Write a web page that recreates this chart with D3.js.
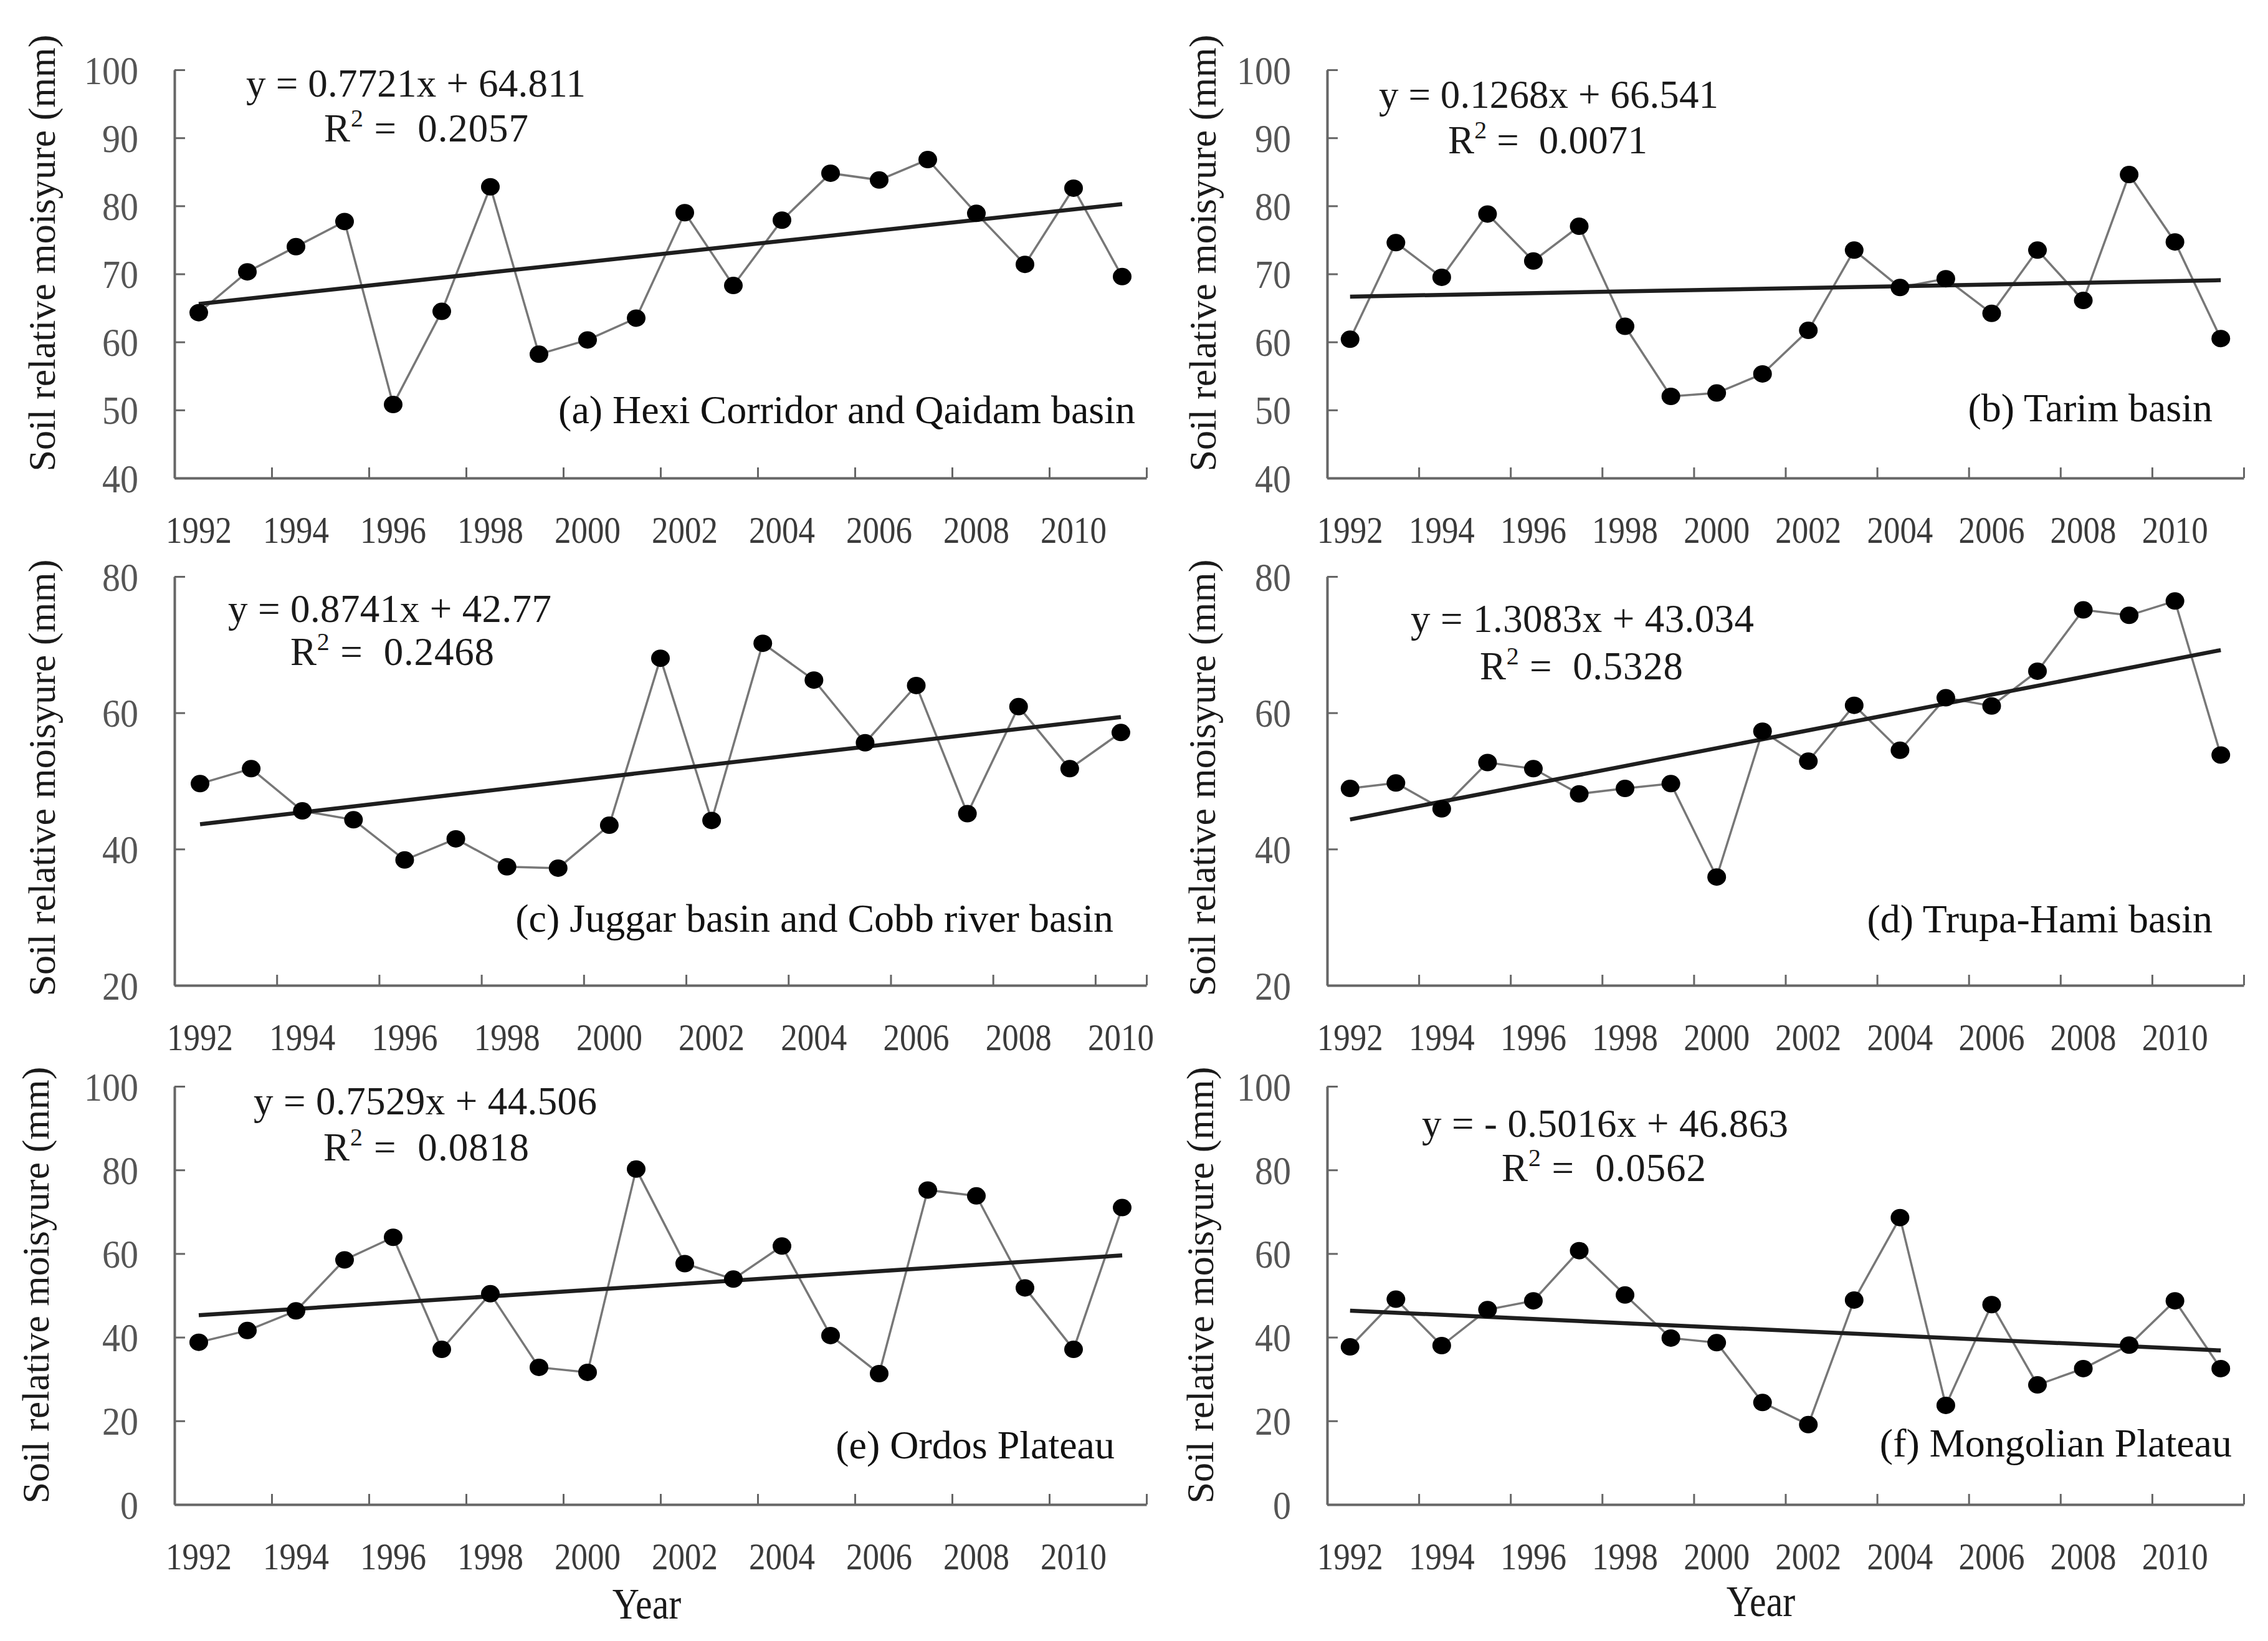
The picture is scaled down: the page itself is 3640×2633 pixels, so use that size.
<!DOCTYPE html>
<html><head><meta charset="utf-8">
<script src="https://cdn.jsdelivr.net/npm/d3@7"></script>
<style>
html,body{margin:0;padding:0;background:#fff;}
svg{display:block;}
text{font-family:"Liberation Serif","Times New Roman",Times,serif; white-space:pre;}
</style>
</head><body>
<svg id="chart" width="3640" height="2633"></svg>
<script>
// ---------------- DATA ----------------
const years20 = [1992,1993,1994,1995,1996,1997,1998,1999,2000,2001,2002,2003,2004,2005,2006,2007,2008,2009,2010,2011];
const years19 = [1992,1993,1994,1995,1996,1997,1998,1999,2000,2001,2002,2003,2004,2005,2006,2007,2008,2009,2010];
const xTickLabels = [1992,1994,1996,1998,2000,2002,2004,2006,2008,2010];

const seriesA = [64.3,70.3,74.0,77.7,50.8,64.5,82.8,58.2,60.3,63.5,79.0,68.3,77.9,84.8,83.8,86.8,78.9,71.4,82.6,69.6];
const seriesB = [60.4,74.6,69.5,78.8,71.9,77.0,62.3,52.0,52.5,55.3,61.7,73.5,68.0,69.3,64.2,73.5,66.1,84.6,74.7,60.5];
const seriesC = [49.6,51.8,45.6,44.3,38.4,41.5,37.4,37.2,43.5,68.0,44.2,70.2,64.8,55.6,64.0,45.2,60.9,51.8,57.1];
const seriesD = [48.9,49.7,45.9,52.7,51.8,48.1,48.9,49.6,35.9,57.3,52.9,61.1,54.5,62.2,61.0,66.1,75.1,74.3,76.4,53.8];
const seriesE = [38.8,41.6,46.3,58.5,63.9,37.1,50.4,32.8,31.6,80.2,57.6,53.9,61.8,40.4,31.3,75.2,73.8,51.8,37.1,71.0];
const seriesF = [37.7,49.1,38.0,46.6,48.7,60.7,50.1,39.8,38.7,24.4,19.1,48.9,68.6,23.7,47.8,28.6,32.5,38.1,48.7,32.5];

const slopes     = [0.7721, 0.1268, 0.8741, 1.3083, 0.7529, -0.5016];
const intercepts = [64.811, 66.541, 42.77, 43.034, 44.506, 46.863];
const eqTexts = ["y = 0.7721x + 64.811","y = 0.1268x + 66.541","y = 0.8741x + 42.77",
                 "y = 1.3083x + 43.034","y = 0.7529x + 44.506","y = - 0.5016x + 46.863"];
const r2Texts = ["0.2057","0.0071","0.2468","0.5328","0.0818","0.0562"];
const titles = ["(a) Hexi Corridor and Qaidam basin","(b) Tarim basin","(c) Juggar basin and Cobb river basin",
                "(d) Trupa-Hami basin","(e) Ordos Plateau","(f) Mongolian Plateau"];
const yTicksAB = [40,50,60,70,80,90,100];
const yTicksCD = [20,40,60,80];
const yTicksEF = [0,20,40,60,80,100];
const yLabel = "Soil relative moisyure (mm)";
const xLabel = "Year";

// ---------------- LAYOUT ----------------
const FONT = '"Liberation Serif","Times New Roman",Times,serif';
const cols = [{x0:280,x1:1840},{x0:2130,x1:3601}];
const rows = [{top:112,bot:767},{top:925,bot:1581},{top:1743,bot:2414}];
const panels = [
 {c:0,r:0,years:years20,values:seriesA,dom:[40,100],ticks:yTicksAB,
  eq:[395,155,545], r2:[520,227,328], title:[1822,679], ylab:[88,406]},
 {c:1,r:0,years:years20,values:seriesB,dom:[40,100],ticks:yTicksAB,
  eq:[2213,173,545], r2:[2324,246,320], title:[3551,676], ylab:[1951,406]},
 {c:0,r:1,years:years19,values:seriesC,dom:[20,80],ticks:yTicksCD,
  eq:[366,998,519], r2:[466,1067,327], title:[1787,1495], ylab:[88,1248]},
 {c:1,r:1,years:years20,values:seriesD,dom:[20,80],ticks:yTicksCD,
  eq:[2264,1014,551], r2:[2375,1090,326], title:[3551,1496], ylab:[1950,1248]},
 {c:0,r:2,years:years20,values:seriesE,dom:[0,100],ticks:yTicksEF,
  eq:[407,1788,551], r2:[519,1862,330], title:[1789,2340], ylab:[78,2062]},
 {c:1,r:2,years:years20,values:seriesF,dom:[0,100],ticks:yTicksEF,
  eq:[2282,1824,588], r2:[2410,1895,328], title:[3582,2337], ylab:[1947,2062]}
];
const yearPos = [[1038,2597],[2826,2593]];

const svg = d3.select('#chart');
svg.append('rect').attr('width',3640).attr('height',2633).attr('fill','#fff');

const AXIS = '#666';

panels.forEach((p,k) => {
  const {x0,x1} = cols[p.c];
  const {top,bot} = rows[p.r];
  const g = svg.append('g');
  const x = d3.scaleBand().domain(p.years).range([x0,x1]).padding(0);
  const bw = x.bandwidth();
  const cx = yr => x(yr) + bw/2;
  const y = d3.scaleLinear().domain(p.dom).range([bot,top]);
  const n = p.years.length;

  // y axis
  const ya = g.append('g').attr('transform',`translate(${x0},0)`)
    .call(d3.axisLeft(y).tickValues(p.ticks).tickSizeInner(-17).tickSizeOuter(0).tickPadding(58).tickFormat(d3.format('d')));
  ya.select('.domain').attr('stroke',AXIS).attr('stroke-width',4);
  ya.selectAll('.tick line').attr('stroke',AXIS).attr('stroke-width',3);
  ya.selectAll('.tick text').attr('font-family',FONT).attr('font-size',58).attr('fill','#555')
    .attr('dy',null).attr('y',0).attr('transform','translate(0,22) scale(1,1.1)');

  // x axis boundary ticks
  const xb = d3.scaleLinear().domain([0,n]).range([x0,x1]);
  const bounds = d3.range(0,n+1,2); if (n % 2 === 1) bounds.push(n);
  const xa = g.append('g').attr('transform',`translate(0,${bot})`)
    .call(d3.axisBottom(xb).tickValues(bounds).tickSizeInner(-17).tickSizeOuter(0).tickFormat(''));
  xa.select('.domain').attr('stroke',AXIS).attr('stroke-width',4);
  xa.selectAll('.tick line').attr('stroke',AXIS).attr('stroke-width',3);

  // x labels at category centres (band axis already centres ticks)
  const labYears = xTickLabels.filter(v => p.years.includes(v));
  const xl = g.append('g').attr('transform',`translate(0,${bot})`)
    .call(d3.axisBottom(x).tickValues(labYears).tickSize(0).tickPadding(0));
  xl.select('.domain').remove();
  xl.selectAll('.tick text').attr('font-family',FONT).attr('font-size',53).attr('fill','#3a3a3a')
    .attr('dy',null).attr('y',0).attr('transform','translate(0,104) scale(1,1.15)');

  // data line
  const line = d3.line().x((d,i)=>cx(p.years[i])).y(d=>y(d));
  g.append('path').datum(p.values).attr('d',line).attr('fill','none')
    .attr('stroke','#777').attr('stroke-width',3.5);

  // trend line
  const trend = [1,n].map(i => ({yr:p.years[i-1], v:slopes[k]*i + intercepts[k]}));
  g.append('line').attr('x1',cx(trend[0].yr)).attr('y1',y(trend[0].v))
    .attr('x2',cx(trend[1].yr)).attr('y2',y(trend[1].v))
    .attr('stroke','#1e1e1e').attr('stroke-width',6.5);

  // markers
  g.selectAll('ellipse.m').data(p.values).join('ellipse').attr('class','m')
    .attr('cx',(d,i)=>cx(p.years[i])).attr('cy',d=>y(d)).attr('rx',15).attr('ry',14).attr('fill','#000');

  // equation
  g.append('text').attr('x',p.eq[0]).attr('y',p.eq[1]).attr('font-size',63).attr('fill','#1a1a1a')
    .attr('textLength',p.eq[2]).attr('lengthAdjust','spacing').text(eqTexts[k]);
  const r2 = g.append('text').attr('x',p.r2[0]).attr('y',p.r2[1]).attr('font-size',63).attr('fill','#1a1a1a')
    .attr('textLength',p.r2[2]).attr('lengthAdjust','spacing');
  r2.append('tspan').text('R');
  r2.append('tspan').attr('font-size',40).attr('dy',-24).text('2');
  r2.append('tspan').attr('dy',24).text(' =  ' + r2Texts[k]);

  // title
  g.append('text').attr('x',p.title[0]).attr('y',p.title[1]).attr('text-anchor','end')
    .attr('font-size',64).attr('fill','#111').text(titles[k]);

  // y label
  g.append('text').attr('transform',`translate(${p.ylab[0]},${p.ylab[1]}) rotate(-90)`)
    .attr('text-anchor','middle').attr('font-size',62).attr('fill','#1a1a1a').text(yLabel);
});

yearPos.forEach(([px,py]) => {
  svg.append('text').attr('text-anchor','middle').attr('font-size',60).attr('fill','#1a1a1a')
    .attr('transform',`translate(${px},${py}) scale(1,1.15)`).text(xLabel);
});
</script>
</body></html>
